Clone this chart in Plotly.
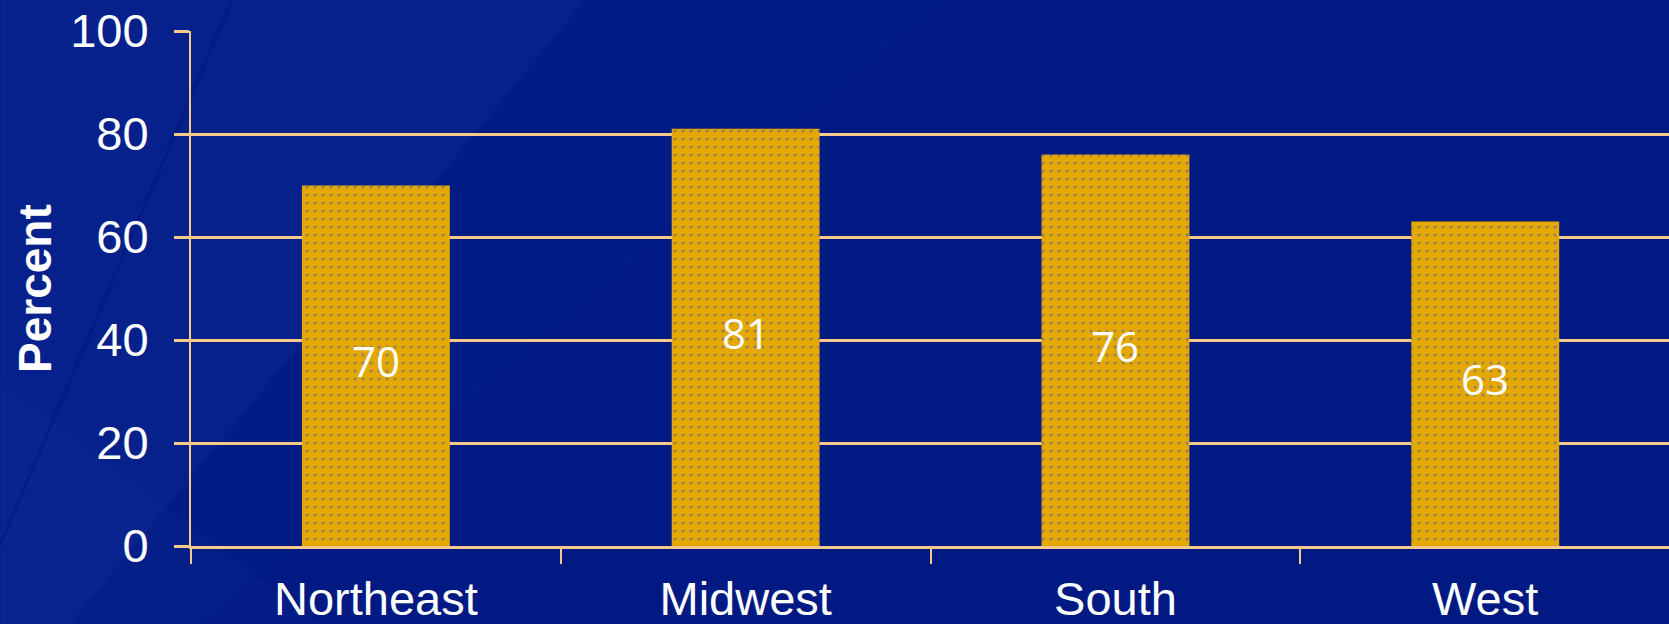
import plotly.graph_objects as go

# Share of respondents by census region
regions = ["Northeast", "Midwest", "South", "West"]
percent = [70, 81, 76, 63]
y_ticks = [0, 20, 40, 60, 80, 100]

W, H = 1669, 624
M_L, M_R, M_T, M_B = 191, 0, 31, 78
PW, PH = W - M_L - M_R, H - M_T - M_B

GOLD = "#E5A800"
PEACH = "#F8CA8A"
BG = "#011A83"


def to_paper(x_px, y_px):
    """Convert page pixels to paper coordinates of the plot area."""
    return (x_px - M_L) / PW, (H - M_B - y_px) / PH


def poly(points, color, opacity):
    pts = [to_paper(x, y) for x, y in points]
    path = "M " + " L ".join(f"{x:.4f},{y:.4f}" for x, y in pts) + " Z"
    return dict(type="path", xref="paper", yref="paper", path=path,
                fillcolor=color, opacity=opacity, line=dict(width=0),
                layer="below")


def streak(p0, p1, color, opacity, width):
    (x0, y0), (x1, y1) = to_paper(*p0), to_paper(*p1)
    return dict(type="line", xref="paper", yref="paper",
                x0=x0, y0=y0, x1=x1, y1=y1, opacity=opacity,
                line=dict(color=color, width=width), layer="below")


# soft diagonal sheen on the left side of the backdrop
shapes = [
    poly([(0, 0), (940, 0), (200, 624), (0, 624)], "#2a48b8", 0.05),
    poly([(0, 0), (585, 0), (70, 624), (0, 624)], "#3456c4", 0.09),
    poly([(0, 380), (320, 624), (0, 624)], "#4a6ad0", 0.05),
    streak((232, 0), (0, 545), "#001070", 0.35, 3),
]

fig = go.Figure()
fig.add_trace(go.Bar(
    x=regions,
    y=percent,
    width=0.4,
    marker=dict(
        color=GOLD,
        line=dict(width=0),
        pattern=dict(shape=".", size=8, solidity=0.12,
                     fgcolor="#3A5CC0", fillmode="overlay"),
    ),
    hoverinfo="skip",
))

# value labels centred in each bar
annotations = [
    dict(x=r, y=v / 2, text=str(v), xref="x", yref="y",
         showarrow=False, yshift=5,
         font=dict(family="Open Sans", size=42, color="white"))
    for r, v in zip(regions, percent)
]

annotations.append(dict(
    text="<b>Percent</b>",
    xref="paper", yref="paper",
    x=to_paper(35, 0)[0], y=to_paper(0, 289)[1],
    xanchor="center", yanchor="middle",
    textangle=-90, showarrow=False,
    font=dict(family="Liberation Sans, Arial", size=46, color="white"),
))

axis_font = dict(family="Liberation Sans, Arial", size=47, color="white")

fig.update_layout(
    width=W, height=H,
    margin=dict(l=M_L, r=M_R, t=M_T, b=M_B, pad=0, autoexpand=False),
    paper_bgcolor=BG,
    plot_bgcolor="rgba(0,0,0,0)",
    showlegend=False,
    shapes=shapes,
    annotations=annotations,
    xaxis=dict(
        type="category",
        range=[-0.5, 3.497],
        automargin=False,
        tickson="boundaries",
        ticks="outside", ticklen=15, tickwidth=2, tickcolor=PEACH,
        showgrid=False,
        showline=True, linecolor=PEACH, linewidth=2.5,
        tickfont=axis_font,
        ticklabelstandoff=10,
        fixedrange=True,
    ),
    yaxis=dict(
        range=[0, 100],
        tickvals=y_ticks,
        automargin=False,
        ticks="outside", ticklen=15, tickwidth=2.5, tickcolor=PEACH,
        showgrid=True, gridcolor=PEACH, gridwidth=2.5,
        zeroline=False,
        showline=True, linecolor=PEACH, linewidth=2,
        tickfont=axis_font,
        ticklabelstandoff=16,
        fixedrange=True,
    ),
)

fig.write_html("out.html", config={"displayModeBar": False})
